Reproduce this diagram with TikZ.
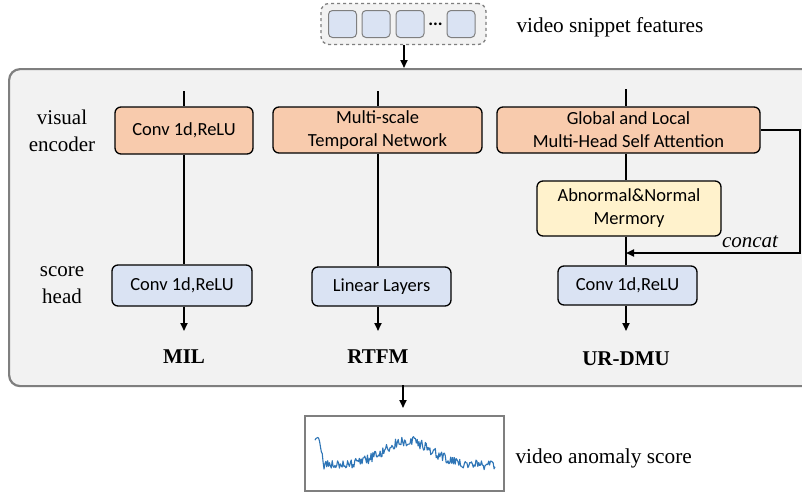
\documentclass[tikz,border=0pt]{standalone}
\usepackage{fontspec}
\setmainfont{Liberation Serif}
\newfontfamily\boxfont{Carlito}
\usetikzlibrary{arrows.meta}
\definecolor{encfill}{HTML}{F8CBAD}
\definecolor{headfill}{HTML}{DAE3F3}
\definecolor{memfill}{HTML}{FFF2CC}
\definecolor{panelfill}{HTML}{F2F2F2}
\definecolor{panelline}{HTML}{7F7F7F}
\definecolor{curveblue}{HTML}{2E75B6}
\tikzset{
  blk/.style={draw=black, line width=1.3pt, rounded corners=6pt, inner sep=0pt,
    align=center, font=\boxfont\fontsize{18.5}{23}\selectfont},
  encbox/.style={blk, fill=encfill},
  headbox/.style={blk, fill=headfill},
  membox/.style={blk, fill=memfill},
  conn/.style={draw=black, line width=1.8pt},
  arr/.style={conn, -{Triangle[length=8pt,width=7pt]}},
  sidelab/.style={align=center, font=\fontsize{21}{27}\selectfont},
  methlab/.style={font=\bfseries\fontsize{21}{25}\selectfont},
  featsq/.style={draw=panelline, line width=1pt, fill=headfill, rounded corners=4pt,
    minimum width=28pt, minimum height=27pt, inner sep=0pt},
}
\begin{document}
\begin{tikzpicture}[x=1pt,y=-1pt]
\useasboundingbox (0,0) rectangle (802,493);
\clip (0,0) rectangle (802,493);
\fill[white] (0,0) rectangle (802,493);

% input features
\node[draw=panelline, dashed, line width=1.3pt, fill=panelfill, rounded corners=8pt,
  minimum width=165pt, minimum height=41pt, inner sep=0pt] (feat) at (403.5,24) {};
\node[featsq] (f1) at (342.5,24) {};
\node[featsq] (f2) at (376,24) {};
\node[featsq] (f3) at (410,24) {};
\node[font=\boxfont\bfseries\fontsize{18}{18}\selectfont, inner sep=0pt, anchor=base] (fd) at (435.5,25) {...};
\node[featsq] (f4) at (461,24) {};
\node[anchor=west, font=\fontsize{21.3}{25}\selectfont] (featlab) at (513,27) {video snippet features};

% main panel
\node[draw=panelline, line width=2.2pt, fill=panelfill, rounded corners=11pt,
  minimum width=810pt, minimum height=317pt, inner sep=0pt, anchor=north west] (panel) at (8,68) {};
\coordinate (pin) at (404,68);
\draw[arr] (feat.south -| pin) -- (pin);

% side labels
\node[sidelab] (lve) at (62,131) {visual\\encoder};
\node[sidelab] (lsh) at (62,285) {score\\head};

% column 1: MIL
\coordinate (t1) at (184,91);
\node[encbox, minimum width=138pt, minimum height=47pt] (enc1) at (184,130.5) {Conv 1d,ReLU};
\node[headbox, minimum width=140pt, minimum height=41pt] (head1) at (182,285.5) {Conv 1d,ReLU};
\coordinate (o1) at (184,331);
\draw[conn] (t1) -- (enc1.north -| t1);
\draw[conn] (enc1.south -| t1) -- (head1.north -| t1);
\draw[arr] (head1.south -| t1) -- (o1);
\node[methlab] (m1) at (184,357) {MIL};

% column 2: RTFM
\coordinate (t2) at (378,91);
\node[encbox, minimum width=209pt, minimum height=46pt] (enc2) at (377.5,130) {Multi-scale\\Temporal Network};
\node[headbox, minimum width=139pt, minimum height=39pt] (head2) at (381.5,286.5) {Linear Layers};
\coordinate (o2) at (378,331);
\draw[conn] (t2) -- (enc2.north -| t2);
\draw[conn] (enc2.south -| t2) -- (head2.north -| t2);
\draw[arr] (head2.south -| t2) -- (o2);
\node[methlab] (m2) at (378,357) {RTFM};

% column 3: UR-DMU
\coordinate (t3) at (626,89);
\node[encbox, minimum width=263pt, minimum height=46pt] (enc3) at (628.5,130) {Global and Local\\Multi-Head Self Attention};
\node[membox, minimum width=184pt, minimum height=55pt] (mem) at (629,208.5) {Abnormal\&Normal\\Mermory};
\node[headbox, minimum width=139pt, minimum height=39pt] (head3) at (627.5,285.5) {Conv 1d,ReLU};
\coordinate (o3) at (626,331);
\coordinate (cr) at (800,130);
\coordinate (cj) at (626,253);
\draw[conn] (t3) -- (enc3.north -| t3);
\draw[conn] (enc3.south -| t3) -- (mem.north -| t3);
\draw[conn] (mem.south -| t3) -- (head3.north -| t3);
\draw[arr] (head3.south -| t3) -- (o3);
\draw[arr] (enc3.east) -- (cr) |- (cj);
\node[font=\itshape\fontsize{21}{25}\selectfont] (cc) at (750,242) {concat};
\node[methlab] (m3) at (626,359) {UR-DMU};

% output
\coordinate (pout) at (403,385);
\coordinate (pend) at (403,408);
\node[draw=panelline, line width=1.5pt, fill=white, minimum width=199pt, minimum height=75pt,
  inner sep=0pt] (score) at (404.5,453.5) {};
\draw[arr] (pout) -- (pend);
\node[anchor=west, font=\fontsize{21.3}{25}\selectfont] (scorelab) at (512,458) {video anomaly score};
\pgfmathsetseed{11}
\draw[curveblue, line width=1.1pt, line join=round]
  plot[domain=315:495, samples=200]
  (\x, {465 - 24*exp(-((\x-408)/33)^2) - 25*min(1,max(0,(324-\x)/4)) + 5*rand});
\end{tikzpicture}
\end{document}
